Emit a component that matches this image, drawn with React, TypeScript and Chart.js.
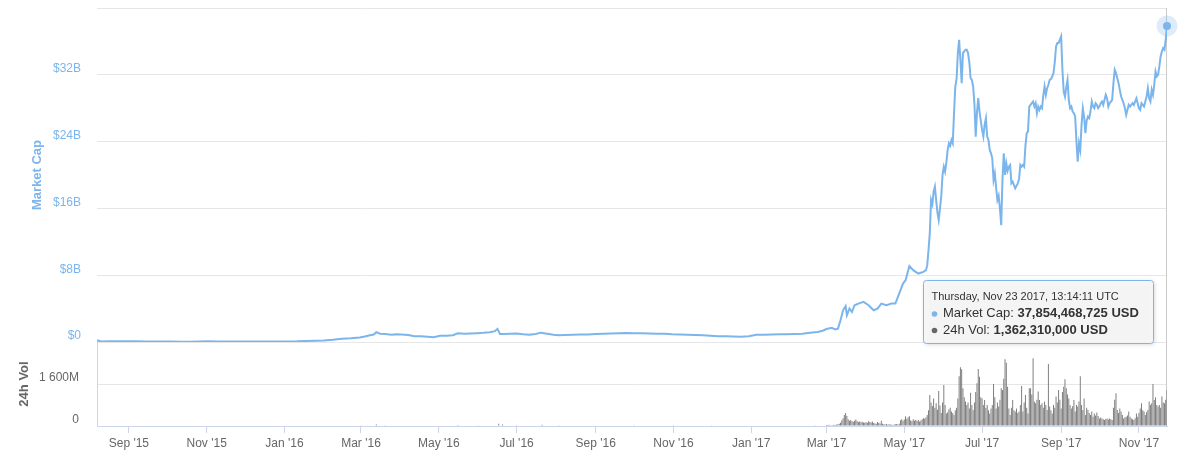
import React, { useEffect, useRef } from 'react';
import { Chart, registerables } from 'chart.js';

Chart.register(...registerables);

// ---------- DATA ----------
// Market cap in billions USD (sparse readings, Aug 2015 - May 2017)
const capSparse: [string, number][] = [
  ['2015-08-07', 0.20], ['2015-08-10', 0.06], ['2015-08-17', 0.10], ['2015-08-24', 0.09], ['2015-08-31', 0.10],
  ['2015-09-07', 0.09], ['2015-09-14', 0.07], ['2015-09-21', 0.07], ['2015-09-28', 0.05], ['2015-10-05', 0.05],
  ['2015-10-12', 0.04], ['2015-10-19', 0.04], ['2015-10-26', 0.07], ['2015-11-02', 0.08], ['2015-11-09', 0.07],
  ['2015-11-16', 0.07], ['2015-11-23', 0.07], ['2015-11-30', 0.07], ['2015-12-07', 0.06], ['2015-12-14', 0.07],
  ['2015-12-21', 0.07], ['2015-12-28', 0.07], ['2016-01-04', 0.07], ['2016-01-11', 0.08], ['2016-01-18', 0.12],
  ['2016-01-25', 0.16], ['2016-02-01', 0.18], ['2016-02-08', 0.27], ['2016-02-15', 0.40], ['2016-02-22', 0.46],
  ['2016-02-29', 0.55], ['2016-03-04', 0.66], ['2016-03-08', 0.80], ['2016-03-11', 0.90], ['2016-03-13', 1.18],
  ['2016-03-16', 1.00], ['2016-03-20', 0.96], ['2016-03-25', 0.86], ['2016-03-29', 0.92], ['2016-04-02', 0.90],
  ['2016-04-07', 0.84], ['2016-04-12', 0.68], ['2016-04-17', 0.70], ['2016-04-22', 0.64], ['2016-04-27', 0.58],
  ['2016-05-02', 0.76], ['2016-05-07', 0.75], ['2016-05-12', 0.82], ['2016-05-16', 1.05], ['2016-05-21', 0.98],
  ['2016-05-26', 1.02], ['2016-05-31', 1.06], ['2016-06-05', 1.10], ['2016-06-10', 1.18], ['2016-06-14', 1.30],
  ['2016-06-16', 1.58], ['2016-06-18', 0.95], ['2016-06-21', 0.96], ['2016-06-26', 1.00], ['2016-07-01', 1.02],
  ['2016-07-06', 0.92], ['2016-07-11', 0.88], ['2016-07-16', 0.95], ['2016-07-20', 1.12], ['2016-07-25', 1.00],
  ['2016-07-30', 0.88], ['2016-08-03', 0.80], ['2016-08-08', 0.84], ['2016-08-14', 0.88], ['2016-08-20', 0.90],
  ['2016-08-26', 0.90], ['2016-09-01', 0.96], ['2016-09-07', 1.00], ['2016-09-13', 1.02], ['2016-09-19', 1.06],
  ['2016-09-25', 1.08], ['2016-10-01', 1.06], ['2016-10-07', 1.04], ['2016-10-13', 1.02], ['2016-10-19', 1.00],
  ['2016-10-25', 0.98], ['2016-10-31', 0.92], ['2016-11-06', 0.90], ['2016-11-12', 0.86], ['2016-11-18', 0.84],
  ['2016-11-24', 0.80], ['2016-11-30', 0.76], ['2016-12-06', 0.70], ['2016-12-12', 0.70], ['2016-12-18', 0.66],
  ['2016-12-24', 0.64], ['2016-12-30', 0.70], ['2017-01-05', 0.88], ['2017-01-11', 0.86], ['2017-01-17', 0.90],
  ['2017-01-23', 0.92], ['2017-01-29', 0.92], ['2017-02-04', 0.96], ['2017-02-10', 1.00], ['2017-02-16', 1.10],
  ['2017-02-22', 1.20], ['2017-02-26', 1.35], ['2017-03-01', 1.55], ['2017-03-05', 1.70], ['2017-03-08', 1.50],
  ['2017-03-10', 1.60], ['2017-03-12', 2.60], ['2017-03-14', 3.80], ['2017-03-16', 4.30], ['2017-03-17', 3.20],
  ['2017-03-19', 4.00], ['2017-03-21', 3.60], ['2017-03-23', 4.40], ['2017-03-26', 4.60], ['2017-03-30', 4.80],
  ['2017-04-03', 4.40], ['2017-04-07', 3.80], ['2017-04-10', 4.00], ['2017-04-13', 4.60], ['2017-04-17', 4.40],
  ['2017-04-21', 4.60], ['2017-04-24', 4.60], ['2017-04-27', 5.80], ['2017-04-30', 7.00], ['2017-05-02', 7.40],
  ['2017-05-05', 9.10], ['2017-05-08', 8.60], ['2017-05-12', 8.20], ['2017-05-16', 8.40], ['2017-05-18', 8.60],
  ['2017-05-19', 9.20],
];

// Market cap in billions USD, daily from the given start date
const capMay17Start = '2017-05-20';
const capMay17 = [11.0, 13.0, 17.0, 16.5, 18.0, 18.6, 17.0, 15.5, 14.6, 16.0, 17.5, 20.0];
const capJun17 = [21.0, 20.4, 21.5, 23.0, 23.8, 23.5, 24.2, 23.8, 27.4, 30.6,
  31.5, 34.6, 36.2, 33.8, 31.0, 34.6, 34.8, 35.0, 35.0, 34.6,
  33.5, 31.6, 31.4, 30.6, 28.5, 24.6, 27.5, 29.2, 27.6, 26.5];
const capJul17 = [25.4, 24.6, 26.0, 26.8, 24.6, 24.2, 23.0, 22.6, 22.0, 19.4,
  20.2, 18.5, 17.0, 17.5, 16.0, 14.0, 19.5, 22.6, 20.0, 21.4,
  20.5, 21.0, 21.2, 19.0, 19.2, 18.8, 18.4, 18.7, 19.0, 19.5, 21.2];
const capAug17 = [21.0, 21.2, 21.0, 23.5, 25.0, 25.2, 28.2, 28.4, 28.6, 28.8,
  28.2, 28.6, 27.4, 28.2, 27.8, 28.2, 28.0, 29.5, 30.6, 29.6,
  30.4, 30.8, 31.4, 31.5, 31.8, 32.2, 33.5, 35.4, 35.8, 35.8, 36.2];
const capSep17 = [36.6, 32.6, 30.0, 29.4, 30.5, 31.4, 29.0, 28.0, 28.2, 27.6,
  27.4, 27.0, 24.0, 21.6, 23.8, 23.0, 26.0, 28.0, 27.0, 25.0,
  26.5, 27.0, 26.8, 27.6, 28.8, 28.2, 28.0, 28.6, 28.4, 28.0];
const capOct17 = [28.2, 28.6, 28.8, 28.4, 29.0, 29.6, 29.2, 28.2, 28.6, 28.8,
  29.0, 31.0, 32.6, 32.2, 31.6, 31.0, 30.2, 29.4, 29.0, 28.6,
  28.0, 27.2, 27.8, 28.4, 28.2, 28.4, 28.6, 28.4, 28.8, 29.2, 28.6];
const capNov17 = [28.0, 27.8, 28.6, 28.4, 28.2, 28.8, 29.4, 30.4, 29.2, 28.8,
  30.2, 29.6, 30.8, 32.4, 31.8, 32.0, 33.0, 34.2, 34.8, 35.2,
  35.0, 36.2, 37.854468725];

// 24h volume in millions USD (sparse, 2016 - Feb 2017)
const volSparse: [string, number][] = [
  ['2016-02-20', 15], ['2016-03-01', 25], ['2016-03-13', 60], ['2016-03-20', 30], ['2016-04-10', 20],
  ['2016-05-01', 15], ['2016-05-16', 35], ['2016-06-01', 25], ['2016-06-17', 90], ['2016-06-20', 60],
  ['2016-07-01', 30], ['2016-07-21', 45], ['2016-08-03', 30], ['2016-09-01', 15], ['2016-10-01', 12],
  ['2016-11-01', 12], ['2016-12-01', 10], ['2017-01-05', 20], ['2017-02-01', 15], ['2017-02-20', 25],
];

// 24h volume in millions USD, daily from the given start date
const volMar17Start = '2017-03-01';
const volMar17 = [40, 35, 50, 30, 25, 35, 45, 40, 60, 70, 90, 120, 220, 300, 420, 500, 380, 260, 200, 230,
  180, 160, 200, 250, 190, 150, 170, 140, 160, 130, 120];
const volApr17 = [140, 120, 180, 150, 130, 170, 110, 100, 90, 150, 120, 100, 200, 90, 70, 60, 80, 50, 70, 60,
  50, 40, 60, 70, 80, 60, 90, 220, 260, 200];
const volMay17 = [250, 370, 280, 330, 370, 220, 180, 260, 200, 240, 190, 230, 170, 210, 260, 300, 280, 330, 420, 600,
  1180, 900, 760, 1050, 700, 870, 620, 1330, 780, 500, 900];
const volJun17 = [1560, 800, 480, 520, 640, 700, 550, 500, 420, 600, 700, 1050, 1900, 2240, 2160, 1440, 1100, 930, 800, 900,
  670, 1270, 800, 610, 900, 1300, 1630, 2170, 1880, 1100];
const volJul17 = [1050, 800, 990, 700, 800, 600, 480, 670, 800, 1600, 1100, 670, 900, 740, 1000, 1440, 1370, 1800, 2540, 2410,
  1500, 670, 420, 700, 990, 600, 550, 670, 500, 550, 800];
const volAug17 = [1520, 550, 900, 1180, 700, 480, 1440, 1440, 1200, 2580, 930, 870, 1000, 1310, 990, 800, 870, 700, 930, 800,
  610, 2360, 740, 600, 480, 800, 700, 1120, 900, 1370, 1000];
const volSep17 = [670, 1300, 1500, 1780, 1440, 1200, 1050, 800, 670, 750, 990, 550, 800, 740, 930, 1900, 800, 610, 1050, 420,
  700, 610, 500, 420, 550, 350, 480, 400, 510, 380];
const volOct17 = [290, 320, 290, 260, 230, 270, 290, 250, 290, 260, 230, 700, 1000, 1250, 610, 500, 670, 550, 420, 290,
  330, 350, 400, 550, 350, 290, 260, 230, 300, 480, 350];
const volNov17 = [500, 670, 870, 600, 550, 420, 520, 610, 930, 800, 870, 1600, 990, 1100, 800, 740, 800, 700, 1120, 900,
  870, 1000, 1362.31];

const xTickDates = ['2015-09-01', '2015-11-01', '2016-01-01', '2016-03-01', '2016-05-01', '2016-07-01',
  '2016-09-01', '2016-11-01', '2017-01-01', '2017-03-01', '2017-05-01', '2017-07-01', '2017-09-01', '2017-11-01'];
const monthNames = ['Jan', 'Feb', 'Mar', 'Apr', 'May', 'Jun', 'Jul', 'Aug', 'Sep', 'Oct', 'Nov', 'Dec'];
const capTicksB = [0, 8, 16, 24, 32, 40];
const volTicksM = [0, 1600, 3200];
const tooltipHeader = 'Thursday, Nov 23 2017, 13:14:11 UTC';

// ---------- BUILD ----------
const DAY = 86400000;
type Pt = { x: number; y: number };
const fromTuples = (arr: [string, number][]): Pt[] => arr.map(([d, v]) => ({ x: Date.parse(d), y: v }));
const fromDaily = (start: string, chunks: number[][]): Pt[] => {
  const t0 = Date.parse(start);
  const out: Pt[] = [];
  let i = 0;
  chunks.forEach((c) => c.forEach((v) => { out.push({ x: t0 + i * DAY, y: v }); i++; }));
  return out;
};

const capPoints = [
  ...fromTuples(capSparse),
  ...fromDaily(capMay17Start, [capMay17, capJun17, capJul17, capAug17, capSep17, capOct17, capNov17]),
];
const volPoints = [
  ...fromTuples(volSparse),
  ...fromDaily(volMar17Start, [volMar17, volApr17, volMay17, volJun17, volJul17, volAug17, volSep17, volOct17, volNov17]),
];

const FONT = '"Liberation Sans", Arial, Helvetica, sans-serif';
const groupDigits = (n: number, sep: string) => String(n).replace(/\B(?=(\d{3})+(?!\d))/g, sep);

const hoverPlugin = {
  id: 'hoverTip',
  beforeDatasetsDraw(chart: any) {
    const meta = chart.getDatasetMeta(0);
    const pt = meta.data[meta.data.length - 1];
    const { ctx, chartArea } = chart;
    ctx.save();
    ctx.strokeStyle = '#cccccc';
    ctx.lineWidth = 1;
    const x = Math.round(pt.x) - 0.5;
    ctx.beginPath();
    ctx.moveTo(x, chartArea.top);
    ctx.lineTo(x, chartArea.bottom);
    ctx.stroke();
    ctx.restore();
  },
  afterDraw(chart: any) {
    const meta = chart.getDatasetMeta(0);
    const pt = meta.data[meta.data.length - 1];
    const px = pt.x;
    const py = pt.y;
    const { ctx } = chart;
    ctx.save();
    // halo + marker
    ctx.fillStyle = 'rgba(124,181,236,0.25)';
    ctx.beginPath();
    ctx.arc(px, py, 10.5, 0, Math.PI * 2);
    ctx.fill();
    ctx.fillStyle = '#7cb5ec';
    ctx.beginPath();
    ctx.arc(px, py, 4, 0, Math.PI * 2);
    ctx.fill();

    // tooltip box
    const capLast = capPoints[capPoints.length - 1].y;
    const volLast = volPoints[volPoints.length - 1].y;
    const bw = 230;
    const bh = 63;
    const bx = Math.round(px - 244) + 0.5;
    const by = Math.round(chart.scales.yCap.bottom - 62) + 0.5;
    const r = 3;
    const path = () => {
      ctx.beginPath();
      ctx.moveTo(bx + r, by);
      ctx.lineTo(bx + bw - r, by);
      ctx.arcTo(bx + bw, by, bx + bw, by + r, r);
      ctx.lineTo(bx + bw, by + bh - r);
      ctx.arcTo(bx + bw, by + bh, bx + bw - r, by + bh, r);
      ctx.lineTo(bx + r, by + bh);
      ctx.arcTo(bx, by + bh, bx, by + bh - r, r);
      ctx.lineTo(bx, by + r);
      ctx.arcTo(bx, by, bx + r, by, r);
      ctx.closePath();
    };
    ctx.shadowColor = 'rgba(0,0,0,0.18)';
    ctx.shadowBlur = 4;
    ctx.shadowOffsetX = 1;
    ctx.shadowOffsetY = 1;
    path();
    ctx.fillStyle = 'rgba(247,247,247,0.9)';
    ctx.fill();
    ctx.shadowColor = 'transparent';
    ctx.strokeStyle = '#7cb5ec';
    ctx.lineWidth = 1;
    path();
    ctx.stroke();

    ctx.textBaseline = 'middle';
    ctx.textAlign = 'left';
    ctx.fillStyle = '#333333';
    ctx.font = `11px ${FONT}`;
    ctx.fillText(tooltipHeader, bx + 8, by + 16);

    const line = (y: number, color: string, label: string, value: string) => {
      ctx.fillStyle = color;
      ctx.beginPath();
      ctx.arc(bx + 11, y + 0.5, 2.8, 0, Math.PI * 2);
      ctx.fill();
      ctx.fillStyle = '#333333';
      ctx.font = `13px ${FONT}`;
      ctx.fillText(label, bx + 19.5, y);
      const w = ctx.measureText(label).width;
      ctx.font = `bold 13px ${FONT}`;
      ctx.fillText(value, bx + 19.5 + w, y);
    };
    line(by + 33, '#7cb5ec', 'Market Cap: ', groupDigits(Math.round(capLast * 1e9), ',') + ' USD');
    line(by + 49.5, '#666666', '24h Vol: ', groupDigits(Math.round(volLast * 1e6), ',') + ' USD');
    ctx.restore();
  },
};

const fitY = (s: any) => {
  s.width = 97;
  s.paddingTop = 0;
  s.paddingBottom = 0;
};

export default function App() {
  const ref = useRef<HTMLCanvasElement>(null);
  useEffect(() => {
    document.body.style.margin = '0';
    const xMin = capPoints[0].x;
    const xMax = capPoints[capPoints.length - 1].x;
    const chart = new Chart(ref.current as HTMLCanvasElement, {
      type: 'line',
      data: {
        datasets: [
          {
            type: 'line',
            label: 'Market Cap',
            data: capPoints,
            xAxisID: 'x',
            yAxisID: 'yCap',
            borderColor: '#7cb5ec',
            borderWidth: 2,
            pointRadius: 0,
            tension: 0,
            fill: false,
            order: 1,
          } as any,
          {
            type: 'bar',
            label: '24h Vol',
            data: volPoints,
            xAxisID: 'x',
            yAxisID: 'yVol',
            backgroundColor: '#7a7a7a',
            borderWidth: 0,
            barPercentage: 0.75,
            categoryPercentage: 1,
            order: 2,
          } as any,
        ],
      },
      options: {
        responsive: true,
        maintainAspectRatio: false,
        animation: false,
        events: [],
        layout: { padding: { left: 0, right: 30, top: 8, bottom: 0 } },
        plugins: { legend: { display: false }, tooltip: { enabled: false } },
        scales: {
          x: {
            type: 'linear',
            position: 'bottom',
            min: xMin,
            max: xMax,
            offset: false,
            grid: { offset: false, drawOnChartArea: false, drawTicks: true, tickLength: 7, color: '#ccd6eb' },
            border: { color: '#ccd6eb' },
            ticks: {
              autoSkip: false,
              maxRotation: 0,
              padding: 3,
              color: '#666666',
              font: { family: FONT, size: 12 },
              callback: (v: any) => {
                const d = new Date(Number(v));
                return monthNames[d.getUTCMonth()] + " '" + String(d.getUTCFullYear()).slice(2);
              },
            },
            afterBuildTicks: (s: any) => {
              s.ticks = xTickDates.map((d) => ({ value: Date.parse(d) }));
            },
            afterFit: (s: any) => { s.height = 30; },
          },
          yVol: {
            type: 'linear',
            position: 'left',
            stack: 'panes',
            stackWeight: 84,
            weight: 1,
            min: 0,
            max: 3200,
            grid: { color: '#e6e6e6', drawTicks: false },
            border: { display: true, color: '#ccd6eb' },
            ticks: {
              padding: 18,
              labelOffset: -6,
              color: '#666666',
              font: { family: FONT, size: 12 },
              callback: (v: any) => (v === 0 ? '0' : v >= 3200 ? '' : groupDigits(v, ' ') + 'M'),
            },
            afterBuildTicks: (s: any) => { s.ticks = volTicksM.map((v) => ({ value: v })); },
            title: {
              display: true,
              text: '24h Vol',
              color: '#666666',
              font: { family: FONT, size: 13, weight: 'bold' },
              padding: { top: 17, bottom: 0 },
            },
            afterFit: fitY,
          },
          yCap: {
            type: 'linear',
            position: 'left',
            stack: 'panes',
            stackWeight: 334,
            weight: 2,
            min: 0,
            max: 40,
            grid: { color: '#e6e6e6', drawTicks: false },
            border: { display: false },
            ticks: {
              padding: 16,
              labelOffset: -6,
              color: '#7cb5ec',
              font: { family: FONT, size: 12 },
              callback: (v: any) => (v === 0 ? '$0' : v >= 40 ? '' : '$' + v + 'B'),
            },
            afterBuildTicks: (s: any) => { s.ticks = capTicksB.map((v) => ({ value: v })); },
            title: {
              display: true,
              text: 'Market Cap',
              color: '#7cb5ec',
              font: { family: FONT, size: 13, weight: 'bold' },
              padding: { top: 30, bottom: 0 },
            },
            afterFit: fitY,
          },
        } as any,
      },
      plugins: [hoverPlugin],
    });
    return () => chart.destroy();
  }, []);
  return (
    <div style={{ position: 'fixed', left: 0, top: 0, width: 1197, height: 456, background: '#ffffff' }}>
      <canvas ref={ref} />
    </div>
  );
}
